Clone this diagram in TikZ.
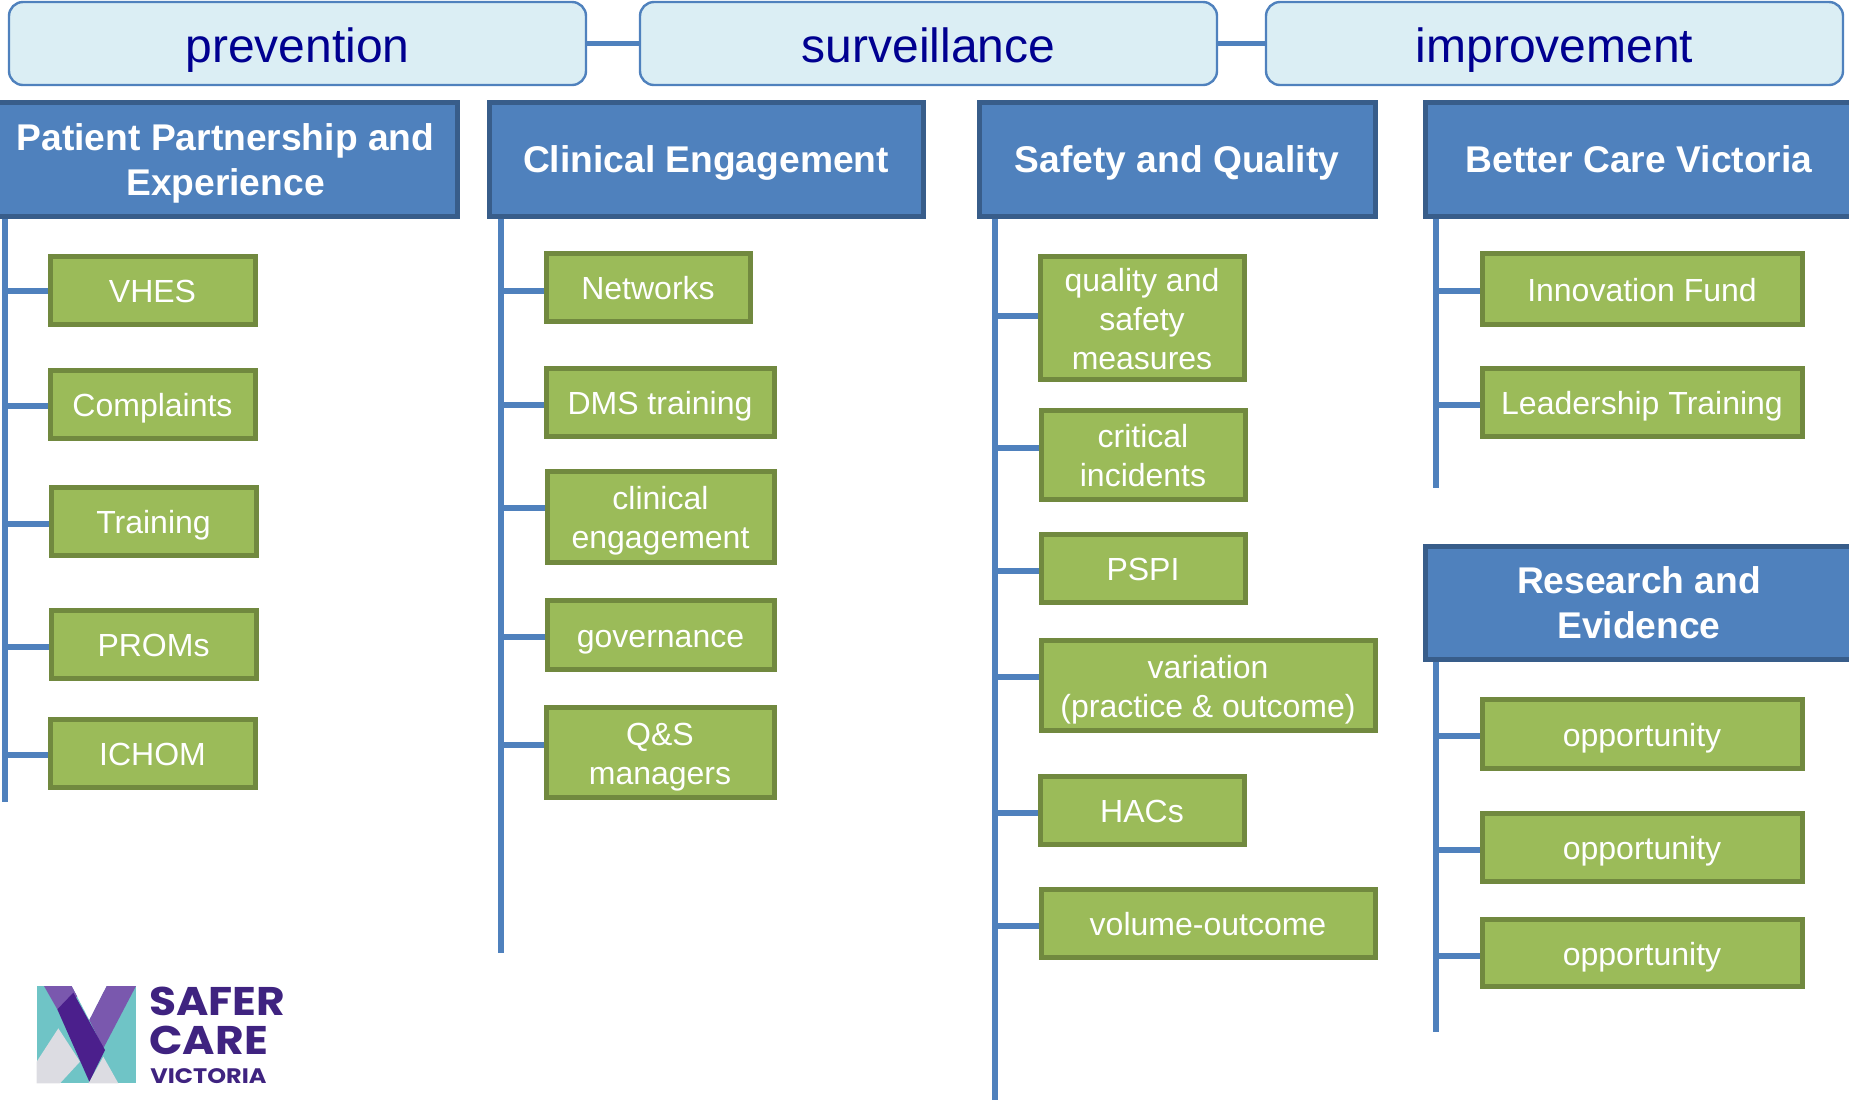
\documentclass[tikz,border=0pt]{standalone}
\usepackage{fontspec}
\setmainfont{Liberation Sans}
\newfontfamily\logofont{Poppins}[Scale=1]
\definecolor{topfill}{HTML}{DBEEF4}
\definecolor{headfill}{HTML}{4F81BD}
\definecolor{headline}{HTML}{385D8A}
\definecolor{leaffill}{HTML}{9BBB59}
\definecolor{leafline}{HTML}{71893F}
\definecolor{navytext}{HTML}{000090}
\definecolor{logoteal}{HTML}{6FC4C6}
\definecolor{logolight}{HTML}{7A58AE}
\definecolor{logodark}{HTML}{4B1F8C}
\definecolor{logopale}{HTML}{DCDCE2}
\definecolor{logotext}{HTML}{3F2380}
\tikzset{
  topbox/.style={draw=headfill,line width=1.2pt,fill=topfill,rounded corners=7pt,inner sep=0pt,text=navytext,font=\fontsize{24}{28}\selectfont,text depth=1pt,execute at begin node={\def\nstrut{\rule{0pt}{20pt}}}},
  headbox/.style={draw=headline,line width=2.5pt,fill=headfill,inner sep=0pt,text=white,align=center,font=\fontsize{18.6}{22.4}\selectfont\bfseries,text depth=1.7pt,execute at begin node={\def\nstrut{\rule{0pt}{15.5pt}}}},
  leafbox/.style={draw=leafline,line width=2.5pt,fill=leaffill,inner sep=0pt,text=white,align=center,font=\fontsize{16}{19.6}\selectfont,text depth=1.5pt,execute at begin node={\def\nstrut{\rule{0pt}{14.2pt}}}},
  stem/.style={draw=headfill,line width=2.6pt},
  logotxt/.style={inner sep=0pt,anchor=west,text=logotext}
}
% name, style, x1, y1, x2, y2, text (outer edges, reference pixels)
\newcommand{\bx}[7]{\node[#2,minimum width={(#5-#3-4)*0.5pt},minimum height={(#6-#4-4)*0.5pt}] (#1) at ({(#3+#5)/2},{(#4+#6)/2}) {\nstrut #7};}
\newcommand{\spinedraw}[2]{\draw[stem] (#2 |- #1.south) -- (#2);}
\newcommand{\twig}[3]{\draw[stem] (#1 |- 0,#3) -- (#2.west |- 0,#3);}
\begin{document}
\begin{tikzpicture}[x=0.5pt,y=-0.5pt]
\clip (0,0) rectangle (1849,1100);
\useasboundingbox (0,0) rectangle (1849,1100);
% top row
\bx{prev}{topbox}{7}{0}{588}{87}{prevention}
\bx{surv}{topbox}{638}{0}{1219}{87}{surveillance}
\bx{impr}{topbox}{1264}{0}{1845}{87}{improvement}
\draw[stem] (prev.east |- 0,43.5) -- (surv.west |- 0,43.5);
\draw[stem] (surv.east |- 0,43.5) -- (impr.west |- 0,43.5);
% headers
\bx{pp}{headbox}{-8}{100}{459}{218}{Patient Partnership and\\Experience}
\bx{ce}{headbox}{487}{100}{925}{218}{Clinical Engagement}
\bx{sq}{headbox}{977}{100}{1377}{218}{Safety and Quality}
\bx{bc}{headbox}{1423}{100}{1855}{218}{Better Care Victoria}
\bx{re}{headbox}{1423}{544}{1855}{661}{Research and\\Evidence}
% column 1
\bx{vhes}{leafbox}{48}{254}{257}{326}{VHES}
\bx{comp}{leafbox}{48}{368}{257}{440}{Complaints}
\bx{trai}{leafbox}{49}{485}{258}{557}{Training}
\bx{prom}{leafbox}{49}{608}{258}{680}{PROMs}
\bx{icho}{leafbox}{48}{717}{257}{789}{ICHOM}
\coordinate (ppend) at (5,802);
\spinedraw{pp}{ppend}
\twig{ppend}{vhes}{291}
\twig{ppend}{comp}{406}
\twig{ppend}{trai}{524}
\twig{ppend}{prom}{647}
\twig{ppend}{icho}{755}
% column 2
\bx{netw}{leafbox}{544}{251}{752}{323}{Networks}
\bx{dmst}{leafbox}{544}{366}{776}{438}{DMS training}
\bx{clin}{leafbox}{545}{469}{776}{564}{clinical\\engagement}
\bx{gove}{leafbox}{545}{598}{776}{671}{governance}
\bx{qsma}{leafbox}{544}{705}{776}{799}{Q\&S\\managers}
\coordinate (ceend) at (501,953);
\spinedraw{ce}{ceend}
\twig{ceend}{netw}{291}
\twig{ceend}{dmst}{405}
\twig{ceend}{clin}{508}
\twig{ceend}{gove}{637}
\twig{ceend}{qsma}{745}
% column 3
\bx{qsme}{leafbox}{1038}{254}{1246}{381}{quality and\\safety\\measures}
\bx{crit}{leafbox}{1039}{408}{1247}{501}{critical\\incidents}
\bx{pspi}{leafbox}{1039}{532}{1247}{604}{PSPI}
\bx{vari}{leafbox}{1039}{638}{1377}{732}{variation\\(practice \& outcome)}
\bx{hacs}{leafbox}{1038}{774}{1246}{846}{HACs}
\bx{volu}{leafbox}{1039}{887}{1377}{959}{volume-outcome}
\coordinate (sqend) at (995,1100);
\spinedraw{sq}{sqend}
\twig{sqend}{qsme}{316}
\twig{sqend}{crit}{448}
\twig{sqend}{pspi}{571}
\twig{sqend}{vari}{677}
\twig{sqend}{hacs}{813}
\twig{sqend}{volu}{926}
% column 4
\bx{inno}{leafbox}{1480}{251}{1804}{326}{Innovation Fund}
\bx{lead}{leafbox}{1480}{366}{1804}{438}{Leadership Training}
\coordinate (bcend) at (1436,488);
\spinedraw{bc}{bcend}
\twig{bcend}{inno}{291}
\twig{bcend}{lead}{405}
\bx{oppa}{leafbox}{1480}{697}{1804}{770}{opportunity}
\bx{oppb}{leafbox}{1480}{811}{1804}{883}{opportunity}
\bx{oppc}{leafbox}{1480}{917}{1804}{988}{opportunity}
\coordinate (reend) at (1436,1032);
\spinedraw{re}{reend}
\twig{reend}{oppa}{736}
\twig{reend}{oppb}{850}
\twig{reend}{oppc}{956}
% logo
\begin{scope}[shift={(0,950)},x=0.1666667pt,y=-0.1666667pt]
\fill[logoteal] (110,108) rectangle (408,400);
\fill[logopale] (110,335) -- (175,235) -- (240,335) -- (180,400) -- (110,400) -- cycle;
\fill[logopale] (310,320) -- (355,400) -- (265,400) -- cycle;
\fill[white] (215,108) -- (320,108) -- (268,210) -- cycle;
\fill[logolight] (132,108) -- (215,108) -- (232,140) -- (172,178) -- cycle;
\fill[logolight] (320,108) -- (408,108) -- (310,295) -- (268,210) -- cycle;
\fill[logodark] (220,128) -- (315,300) -- (268,395) -- (172,178) -- cycle;
\end{scope}
\node[logotxt,xscale=1.1,font=\logofont\fontsize{20}{20}\selectfont\bfseries] (safer) at (149,1001) {SAFER};
\node[logotxt,xscale=1.1,font=\logofont\fontsize{20}{20}\selectfont\bfseries] (care) at (149,1040) {CARE};
\node[logotxt,xscale=1.14,font=\logofont\fontsize{10.5}{11}\selectfont\bfseries] (vict) at (150,1076) {VICTORIA};
\end{tikzpicture}
\end{document}
